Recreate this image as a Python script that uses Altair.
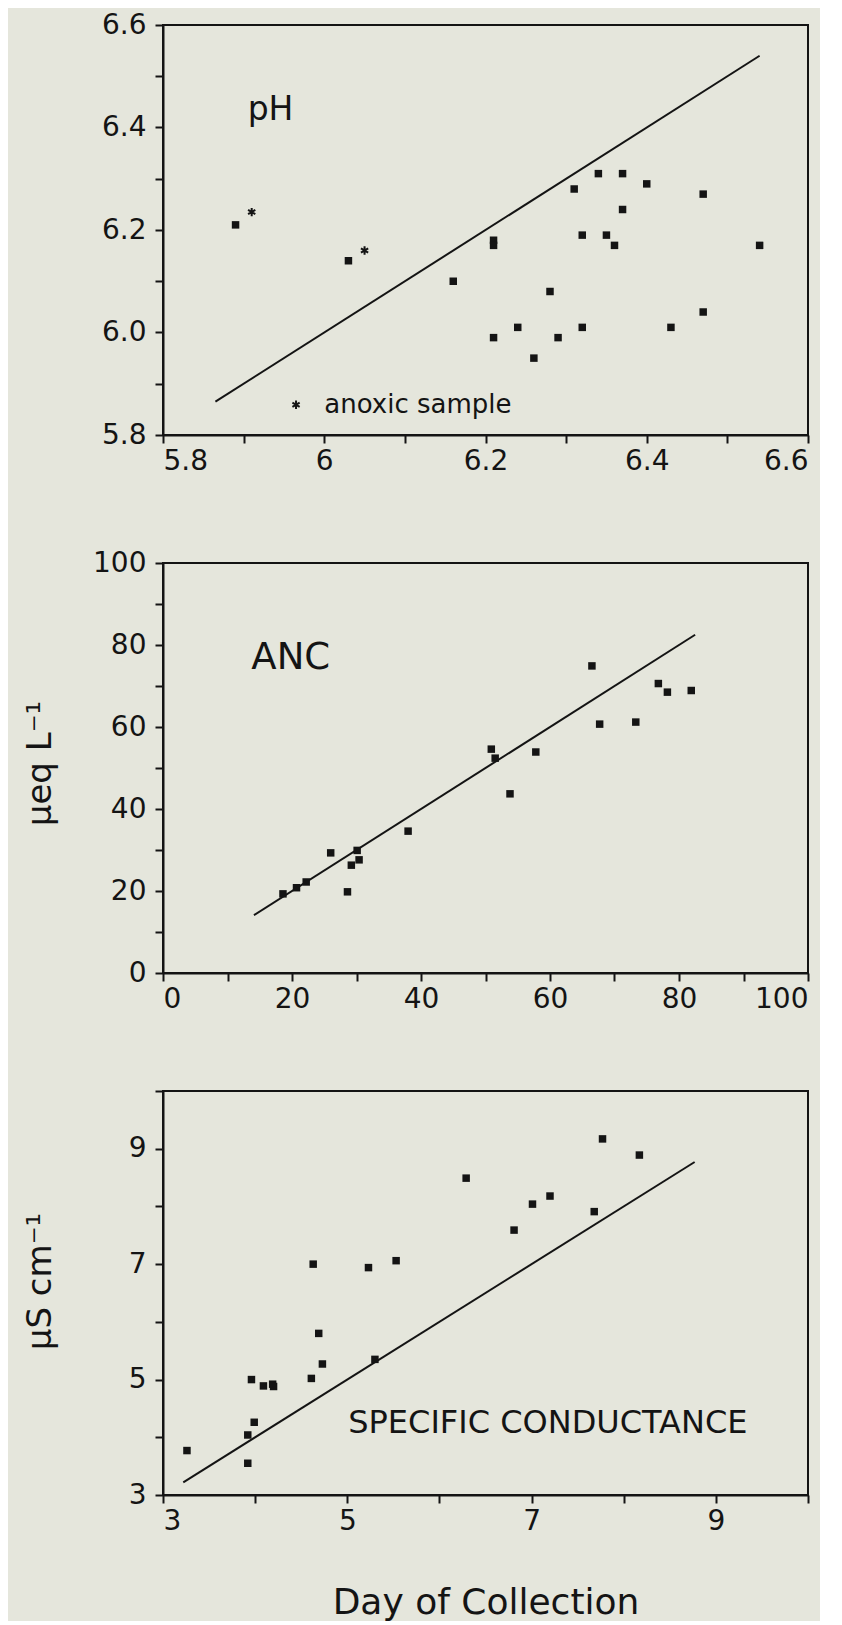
import altair as alt
import pandas as pd

INK = "#141414"
BG = "#e5e6dc"
FONT = "DejaVu Sans"

# ---------------- pH panel ----------------
ph_x = [6.34, 6.37, 6.40, 6.31, 6.47, 6.37, 6.32, 6.35, 6.36, 6.54, 6.21, 6.21,
        6.16, 6.28, 6.47, 6.24, 6.32, 6.43, 6.21, 6.29, 6.26, 5.89, 6.03]
ph_y = [6.31, 6.31, 6.29, 6.28, 6.27, 6.24, 6.19, 6.19, 6.17, 6.17, 6.18, 6.17,
        6.10, 6.08, 6.04, 6.01, 6.01, 6.01, 5.99, 5.99, 5.95, 6.21, 6.14]
anoxic_x = [5.91, 6.05]
anoxic_y = [6.235, 6.16]
ph_line = [5.865, 6.54]
ph_ticks = [5.8, 5.9, 6.0, 6.1, 6.2, 6.3, 6.4, 6.5, 6.6]
ph_x_labels = {5.8: "5.8", 6.0: "6", 6.2: "6.2", 6.4: "6.4", 6.6: "6.6"}
ph_y_labels = {5.8: "5.8", 6.0: "6.0", 6.2: "6.2", 6.4: "6.4", 6.6: "6.6"}

# ---------------- ANC panel ----------------
anc_x = [66.5, 76.8, 78.2, 81.9, 67.7, 73.3, 50.9, 51.5, 57.8, 53.8,
         38.0, 26.0, 30.1, 30.4, 29.2, 28.6, 18.6, 20.7, 22.2]
anc_y = [74.9, 70.6, 68.5, 68.9, 60.7, 61.2, 54.6, 52.4, 53.9, 43.7,
         34.6, 29.3, 29.9, 27.6, 26.3, 19.8, 19.3, 20.8, 22.2]
anc_line = [14.1, 82.5]
anc_ticks = [0, 10, 20, 30, 40, 50, 60, 70, 80, 90, 100]
anc_labels = {0: "0", 20: "20", 40: "40", 60: "60", 80: "80", 100: "100"}

# ---------------- Specific conductance panel ----------------
sc_x = [3.26, 3.92, 3.92, 3.99, 3.96, 4.09, 4.19, 4.20, 4.61, 4.63, 4.69,
        4.73, 5.23, 5.53, 5.30, 6.81, 7.01, 7.68, 6.29, 7.77, 8.17, 7.20]
sc_y = [3.77, 3.55, 4.04, 4.26, 5.00, 4.89, 4.92, 4.88, 5.02, 7.00, 5.80,
        5.27, 6.94, 7.06, 5.35, 7.59, 8.04, 7.91, 8.49, 9.17, 8.89, 8.18]
sc_line = [3.22, 8.77]
sc_ticks = [3, 4, 5, 6, 7, 8, 9, 10]
sc_labels = {3: "3", 5: "5", 7: "7", 9: "9"}

W = 645


def label_expr(mapping):
    parts = [f"datum.value == {k} ? '{v}'" for k, v in mapping.items()]
    return " : ".join(parts) + " : ''"


def make_axis(ticks, labels, orient, **kw):
    base = dict(values=ticks, labelExpr=label_expr(labels))
    if orient == "x":
        base.update(labelPadding=4)
    else:
        base.update(labelPadding=9)
    base.update(kw)
    return alt.Axis(**base)


def panel(xs, ys, line, domain_x, domain_y, xticks, xlabels, yticks, ylabels,
          height, texts, x_title=None, y_title=None, y_title_y=None,
          extra_layers=()):
    pts = pd.DataFrame({"x": xs, "y": ys})
    ln = pd.DataFrame({"x": line, "y": line})
    if x_title:
        xax_kw = dict(title=x_title, titleFontSize=36, titlePadding=50,
                      titleFontWeight="normal")
    else:
        xax_kw = dict(title=None)
    if y_title:
        yax_kw = dict(title=y_title, titleFontSize=34, titleX=-123,
                      titleY=y_title_y, titleBaseline="middle",
                      titleFontWeight="normal")
    else:
        yax_kw = dict(title=None)
    xenc = alt.X("x:Q", scale=alt.Scale(domain=domain_x, nice=False, zero=False),
                 axis=make_axis(xticks, xlabels, "x", **xax_kw))
    yenc = alt.Y("y:Q", scale=alt.Scale(domain=domain_y, nice=False, zero=False),
                 axis=make_axis(yticks, ylabels, "y", **yax_kw))
    points = alt.Chart(pts).mark_point(shape="square", filled=True, size=56,
                                       color=INK, opacity=1).encode(x=xenc, y=yenc)
    liner = alt.Chart(ln).mark_line(color=INK, strokeWidth=2).encode(x="x:Q", y="y:Q")
    layers = [liner, points]
    for t in texts:
        df = pd.DataFrame({"x": [t["x"]], "y": [t["y"]], "t": [t["text"]]})
        layers.append(
            alt.Chart(df).mark_text(align="left", baseline="alphabetic", font=FONT,
                                    fontSize=t["size"], color=INK)
            .encode(x="x:Q", y="y:Q", text="t:N"))
    layers.extend(extra_layers)
    return alt.layer(*layers).properties(width=W, height=height)


ASTERISK = "M0,-1L0,1M-0.866,-0.5L0.866,0.5M-0.866,0.5L0.866,-0.5"
stars = pd.DataFrame({"x": anoxic_x + [5.965], "y": anoxic_y + [5.859]})
star_layer = alt.Chart(stars).mark_point(shape=ASTERISK, filled=False, size=70,
                                         strokeWidth=2, color=INK, opacity=1).encode(
    x="x:Q", y="y:Q")

p1 = panel(ph_x, ph_y, ph_line, [5.8, 6.6], [5.8, 6.6], ph_ticks, ph_x_labels,
           ph_ticks, ph_y_labels, 410,
           [dict(x=5.905, y=6.414, text="pH", size=33),
            dict(x=6.0, y=5.843, text="anoxic sample", size=26)],
           extra_layers=[star_layer])

p2 = panel(anc_x, anc_y, anc_line, [0, 100], [0, 100], anc_ticks, anc_labels,
           anc_ticks, anc_labels, 410,
           [dict(x=13.7, y=74.2, text="ANC", size=37)],
           y_title="\u03bceq  L\u207b\u00b9", y_title_y=200)

p3 = panel(sc_x, sc_y, sc_line, [3, 10], [3, 10], sc_ticks, sc_labels,
           sc_ticks, sc_labels, 404,
           [dict(x=5.01, y=4.08, text="SPECIFIC  CONDUCTANCE", size=32)],
           x_title="Day  of  Collection", y_title="\u03bcS  cm\u207b\u00b9",
           y_title_y=190)

top_pair = alt.vconcat(p1, p2, spacing=72)
chart = alt.vconcat(top_pair, p3, spacing=62).properties(
    background=BG,
    padding={"left": 14, "top": 2, "right": 10, "bottom": 0},
).configure_view(stroke=INK, strokeWidth=2).configure_axis(
    domainColor=INK, domainWidth=2, tickColor=INK, tickWidth=2, tickSize=8,
    labelFont=FONT, labelFontSize=28, labelColor=INK, grid=False,
    titleFont=FONT, titleColor=INK, labelOverlap=False,
)

chart.save("out.html", embed_options={"renderer": "svg", "actions": False})
